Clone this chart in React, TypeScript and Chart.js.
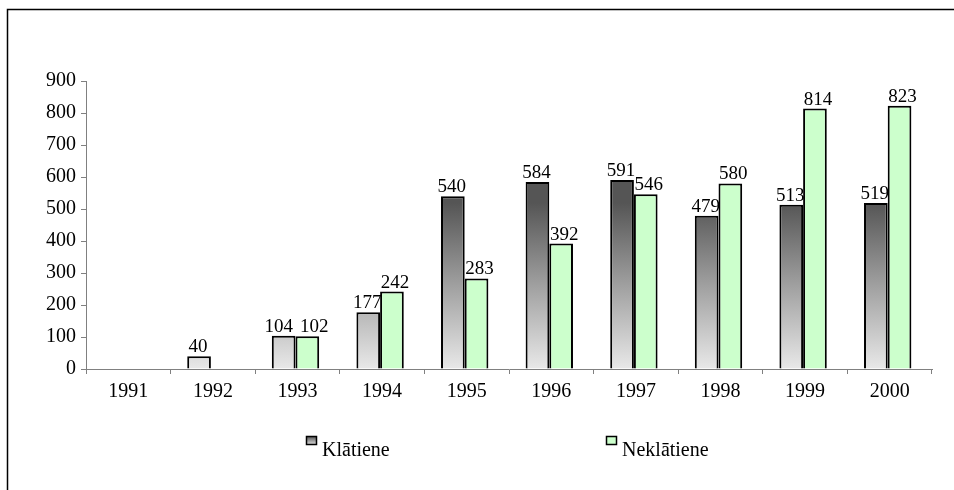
import React, { useEffect, useRef } from "react";
import { Chart, registerables } from "chart.js";

Chart.register(...registerables);

const years = ["1991", "1992", "1993", "1994", "1995", "1996", "1997", "1998", "1999", "2000"];
const klatiene: (number | null)[] = [null, 40, 104, 177, 540, 584, 591, 479, 513, 519];
const neklatiene: (number | null)[] = [null, null, 102, 242, 283, 392, 546, 580, 814, 823];
const seriesNames = ["Klātiene", "Neklātiene"];
const yTicks = [0, 100, 200, 300, 400, 500, 600, 700, 800, 900];

const FONT = "'Liberation Serif', 'Times New Roman', serif";

export default function App() {
  const ref = useRef<HTMLCanvasElement | null>(null);
  useEffect(() => {
    const canvas = ref.current!;
    const framePlugin = {
      id: "frame",
      afterDraw(chart: any) {
        const c = chart.ctx;
        c.save();
        c.strokeStyle = "#000";
        c.lineWidth = 1.5;
        c.strokeRect(7.5, 9.5, 1200, 1200);
        c.restore();
      },
    };
    const shiftPlugin = {
      id: "groupShift",
      afterDatasetsUpdate(chart: any) {
        chart.data.datasets.forEach((_: any, di: number) => {
          chart.getDatasetMeta(di).data.forEach((el: any) => {
            el.x -= 2;
          });
        });
      },
    };
    const gradientPlugin = {
      id: "barGradient",
      beforeDatasetsDraw(chart: any) {
        const meta = chart.getDatasetMeta(0);
        const c = chart.ctx;
        meta.data.forEach((el: any) => {
          if (el.skip) return;
          const g = c.createLinearGradient(0, el.y, 0, el.base);
          g.addColorStop(0, "#555555");
          g.addColorStop(0.5, "#a0a0a0");
          g.addColorStop(1, "#e8e8e8");
          el.options.backgroundColor = g;
        });
      },
    };
    const labelPlugin = {
      id: "valueLabels",
      afterDatasetsDraw(chart: any) {
        const c = chart.ctx;
        c.save();
        c.font = `19px ${FONT}`;
        c.fillStyle = "#000";
        c.textAlign = "center";
        c.textBaseline = "alphabetic";
        const m0 = chart.getDatasetMeta(0);
        const m1 = chart.getDatasetMeta(1);
        for (let i = 0; i < years.length; i++) {
          const v0 = klatiene[i];
          const v1 = neklatiene[i];
          const e0 = m0.data[i];
          const e1 = m1.data[i];
          let x0 = e0 ? e0.x - 1 : 0;
          let x1 = e1 ? e1.x + 3 : 0;
          const y0 = e0 ? e0.y - 4 : 0;
          const y1 = e1 ? e1.y - 4 : 0;
          if (v0 != null && v1 != null && Math.abs(y0 - y1) < 12) {
            const w0 = c.measureText(String(v0)).width;
            const w1 = c.measureText(String(v1)).width;
            const gap = (x1 - w1 / 2) - (x0 + w0 / 2);
            if (gap < 7) {
              const push = (7 - gap) / 2;
              x0 -= push;
              x1 += push;
            }
          }
          if (v0 != null) c.fillText(String(v0), x0, y0);
          if (v1 != null) c.fillText(String(v1), x1, y1);
        }
        c.restore();
      },
    };
    const legendPlugin = {
      id: "customLegend",
      afterDraw(chart: any) {
        const c = chart.ctx;
        c.save();
        const items = [
          { x: 306, fill: "grad" },
          { x: 606, fill: "#ccffcc" },
        ];
        items.forEach((it, i) => {
          const sx = it.x + 0.5, sy = 436.5, w = 10, h = 8;
          if (it.fill === "grad") {
            const g = c.createLinearGradient(0, sy, 0, sy + h);
            g.addColorStop(0, "#555555");
            g.addColorStop(1, "#dddddd");
            c.fillStyle = g;
          } else {
            c.fillStyle = it.fill;
          }
          c.fillRect(sx, sy, w, h);
          c.strokeStyle = "#000";
          c.lineWidth = 1.5;
          c.strokeRect(sx, sy, w, h);
          c.fillStyle = "#000";
          c.font = `20px ${FONT}`;
          c.textAlign = "left";
          c.textBaseline = "alphabetic";
          c.fillText(seriesNames[i], it.x + 16, 456);
        });
        c.restore();
      },
    };
    const chart = new Chart(canvas, {
      type: "bar",
      data: {
        labels: years,
        datasets: [
          {
            label: seriesNames[0],
            data: klatiene,
            backgroundColor: "#999999",
            borderColor: "#000",
            borderWidth: 2,
            barPercentage: 1,
            categoryPercentage: 0.56,
          },
          {
            label: seriesNames[1],
            data: neklatiene,
            backgroundColor: "#ccffcc",
            borderColor: "#000",
            borderWidth: 2,
            barPercentage: 1,
            categoryPercentage: 0.56,
          },
        ],
      },
      options: {
        responsive: false,
        animation: false,
        layout: { padding: { top: 81, right: 22, bottom: 0, left: 0 } },
        plugins: { legend: { display: false }, tooltip: { enabled: false } },
        scales: {
          x: {
            grid: { drawOnChartArea: false, tickLength: 5, color: "#808080", offset: true },
            border: { color: "#808080", width: 1 },
            ticks: { font: { family: FONT, size: 20 }, color: "#000", padding: 6, maxRotation: 0 },
            afterFit(scale: any) {
              scale.height = 490 - 369;
            },
          },
          y: {
            min: 0,
            max: 900,
            afterBuildTicks(scale: any) {
              scale.ticks = yTicks.map((v) => ({ value: v }));
            },
            grid: { drawOnChartArea: false, tickLength: 5, color: "#808080" },
            border: { color: "#808080", width: 1 },
            ticks: { font: { family: FONT, size: 20 }, color: "#000", padding: 5 },
            afterFit(scale: any) {
              scale.width = 86;
            },
          },
        },
      },
      plugins: [shiftPlugin, gradientPlugin, labelPlugin, legendPlugin, framePlugin],
    });
    return () => chart.destroy();
  }, []);
  return (
    <div style={{ position: "fixed", left: 0, top: 0, width: 954, height: 490, background: "#fff" }}>
      <canvas ref={ref} width={954} height={490} />
    </div>
  );
}
